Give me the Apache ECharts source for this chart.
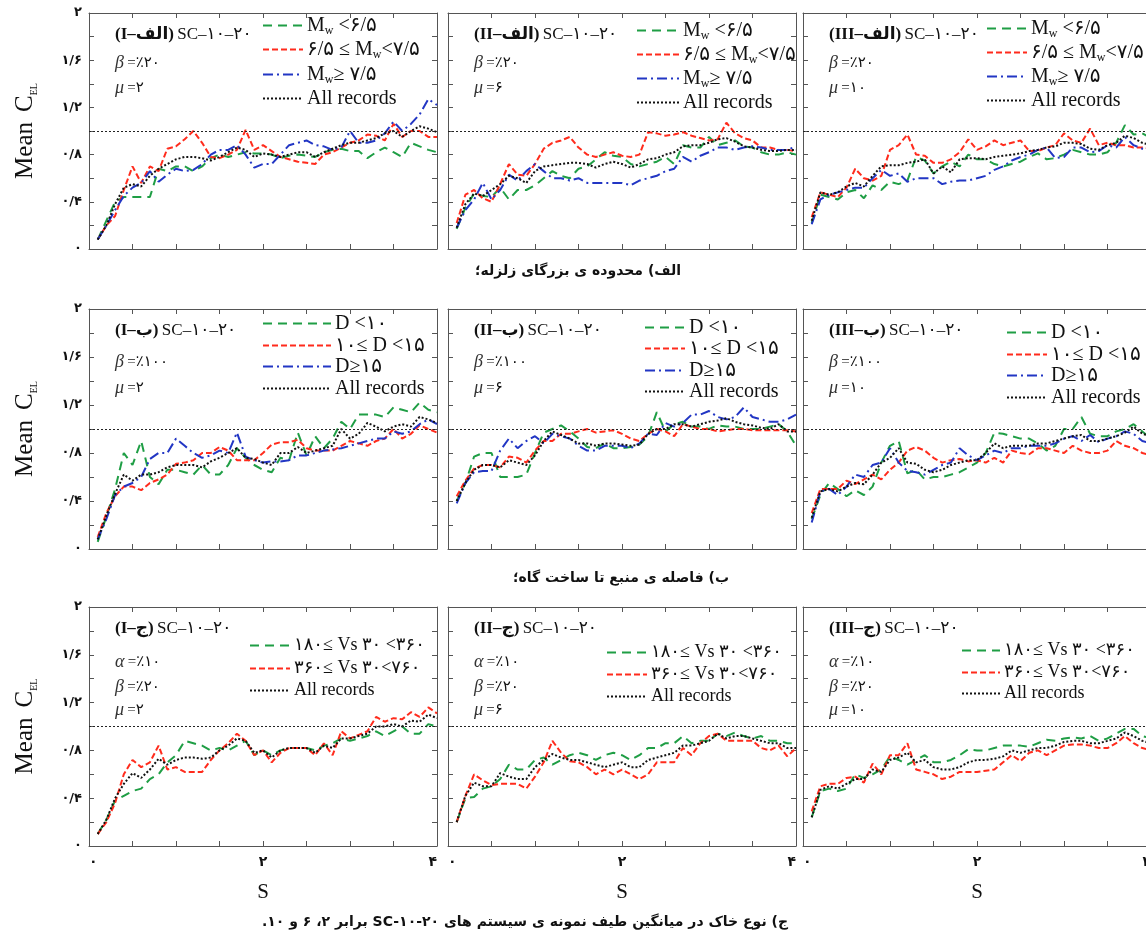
<!DOCTYPE html>
<html>
<head>
<meta charset="utf-8">
<script src="https://cdn.jsdelivr.net/npm/echarts@6/dist/echarts.min.js"></script>
<style>
    html, body { margin: 0; background: #fff; }
    #chart { width: 1146px; height: 937px; }
</style>
</head>
<body>
<div id="chart"></div>
<script>
// periods (s) shared by every curve
var PERIOD = [0.1, 0.2, 0.3, 0.4, 0.5, 0.6, 0.7, 0.8, 0.9, 1.0,
              1.1, 1.2, 1.3, 1.4, 1.5, 1.6, 1.7, 1.8, 1.9, 2.0,
              2.1, 2.2, 2.3, 2.4, 2.5, 2.6, 2.7, 2.8, 2.9, 3.0,
              3.1, 3.2, 3.3, 3.4, 3.5, 3.6, 3.7, 3.8, 3.9, 4.0];

// row 1 (الف) : magnitude bins, mu = 2, 6, 10
var mwLowI  = [0.08,0.24,0.4,0.44,0.44,0.44,0.44,0.68,0.66,0.7,0.7,0.66,0.7,0.77,0.8,0.78,0.8,0.82,0.81,0.81,0.8,0.77,0.79,0.8,0.79,0.78,0.82,0.84,0.85,0.83,0.83,0.77,0.82,0.86,0.82,0.78,0.9,0.87,0.84,0.82];
var mwMidI  = [0.08,0.2,0.28,0.5,0.7,0.56,0.7,0.66,0.85,0.87,0.93,1.0,0.9,0.78,0.77,0.8,0.84,1.01,0.84,0.88,0.83,0.78,0.76,0.74,0.73,0.72,0.8,0.82,0.86,0.9,0.92,0.97,0.96,0.92,1.06,0.95,1.0,1.0,0.95,0.95];
var mwHighI = [0.08,0.2,0.33,0.45,0.52,0.56,0.66,0.57,0.63,0.68,0.66,0.67,0.72,0.8,0.84,0.84,0.88,0.8,0.69,0.72,0.72,0.8,0.88,0.9,0.92,0.88,0.87,0.84,0.86,1.0,0.9,0.9,0.92,0.98,1.08,1.0,1.06,1.14,1.27,1.22];
var mwAllI  = [0.08,0.2,0.38,0.52,0.55,0.53,0.62,0.68,0.72,0.76,0.78,0.78,0.77,0.75,0.78,0.82,0.86,0.84,0.78,0.81,0.8,0.78,0.8,0.82,0.82,0.78,0.82,0.85,0.88,0.9,0.9,0.92,0.94,0.98,1.0,0.95,1.0,1.04,1.02,0.99];

var mwLowII  = [0.17,0.35,0.47,0.45,0.44,0.52,0.42,0.5,0.5,0.54,0.6,0.66,0.62,0.6,0.68,0.7,0.76,0.82,0.79,0.78,0.72,0.7,0.72,0.74,0.78,0.72,0.88,0.86,0.86,0.95,0.88,0.9,0.92,0.87,0.86,0.82,0.8,0.8,0.82,0.8];
var mwMidII  = [0.22,0.46,0.5,0.43,0.4,0.55,0.72,0.63,0.62,0.72,0.85,0.9,0.92,0.95,0.86,0.8,0.78,0.8,0.82,0.79,0.78,0.8,0.99,0.98,0.96,0.97,0.99,0.96,0.94,0.92,0.93,1.07,0.98,0.94,0.92,0.86,0.86,0.84,0.84,0.83];
var mwHighII = [0.18,0.33,0.42,0.56,0.42,0.5,0.63,0.58,0.66,0.72,0.66,0.6,0.6,0.58,0.6,0.56,0.56,0.56,0.56,0.56,0.54,0.58,0.6,0.62,0.66,0.68,0.78,0.74,0.79,0.82,0.86,0.86,0.84,0.86,0.87,0.86,0.84,0.84,0.84,0.87];
var mwAllII  = [0.18,0.38,0.47,0.45,0.5,0.55,0.62,0.6,0.56,0.66,0.7,0.71,0.72,0.73,0.73,0.72,0.69,0.72,0.74,0.72,0.69,0.72,0.76,0.77,0.8,0.82,0.87,0.88,0.88,0.9,0.93,0.94,0.91,0.87,0.86,0.84,0.83,0.83,0.84,0.84];

var mwLowIII  = [0.22,0.46,0.44,0.42,0.48,0.5,0.43,0.54,0.5,0.57,0.55,0.58,0.78,0.75,0.64,0.7,0.74,0.7,0.8,0.76,0.76,0.72,0.7,0.72,0.74,0.78,0.81,0.76,0.77,0.8,0.84,0.82,0.8,0.8,0.82,0.9,1.05,0.97,0.98,0.94];
var mwMidIII  = [0.27,0.48,0.46,0.44,0.52,0.68,0.6,0.58,0.62,0.84,0.88,0.97,0.8,0.79,0.73,0.73,0.76,0.82,0.93,0.84,0.87,0.92,0.88,0.9,0.92,0.83,0.83,0.86,0.88,0.98,0.92,0.9,1.02,0.88,0.9,0.88,0.88,0.86,0.86,0.85];
var mwHighIII = [0.21,0.42,0.46,0.48,0.5,0.52,0.52,0.6,0.67,0.62,0.64,0.57,0.6,0.6,0.6,0.55,0.57,0.58,0.58,0.6,0.62,0.67,0.7,0.75,0.78,0.8,0.84,0.86,0.77,0.78,0.86,0.86,0.82,0.83,0.88,0.86,0.95,0.88,0.85,0.84];
var mwAllIII  = [0.24,0.48,0.46,0.48,0.53,0.56,0.53,0.62,0.7,0.71,0.71,0.73,0.74,0.76,0.64,0.7,0.65,0.76,0.77,0.77,0.76,0.78,0.79,0.8,0.81,0.83,0.84,0.86,0.87,0.9,0.9,0.89,0.85,0.84,0.88,0.9,0.96,0.94,0.9,0.88];

// row 2 (ب) : source distance bins
var dNearI = [0.06,0.27,0.5,0.8,0.7,0.9,0.6,0.54,0.66,0.66,0.64,0.62,0.7,0.62,0.62,0.7,0.84,0.76,0.7,0.66,0.64,0.76,0.74,0.97,0.78,0.94,0.84,0.92,1.06,1.0,1.12,1.12,1.12,1.1,1.18,1.16,1.14,1.22,1.16,1.14];
var dMidI  = [0.1,0.3,0.44,0.52,0.52,0.49,0.55,0.58,0.62,0.71,0.72,0.74,0.8,0.8,0.85,0.82,0.74,0.74,0.74,0.8,0.87,0.89,0.89,0.91,0.84,0.82,0.82,0.82,0.86,0.9,0.88,0.86,0.9,0.92,1.0,0.92,0.96,1.03,1.0,0.97];
var dFarI  = [0.08,0.25,0.45,0.52,0.55,0.6,0.75,0.8,0.8,0.92,0.86,0.8,0.76,0.78,0.82,0.8,0.97,0.77,0.74,0.72,0.73,0.73,0.74,0.78,0.78,0.8,0.82,0.83,0.84,0.86,0.88,0.9,0.92,0.92,0.98,0.96,0.98,1.04,1.08,1.04];
var dAllI  = [0.08,0.28,0.46,0.62,0.57,0.62,0.62,0.64,0.68,0.7,0.7,0.7,0.68,0.73,0.76,0.8,0.84,0.76,0.75,0.72,0.7,0.8,0.8,0.85,0.8,0.82,0.84,0.86,1.0,0.92,0.96,1.05,1.02,0.98,1.02,1.04,1.02,1.1,1.08,1.05];

var dNearII = [0.4,0.55,0.77,0.8,0.8,0.6,0.6,0.6,0.62,0.8,0.97,1.0,1.03,0.98,0.92,0.85,0.84,0.88,0.84,0.84,0.85,0.87,0.94,1.14,0.98,1.04,1.06,1.02,1.02,1.0,1.03,1.02,1.02,1.0,1.0,1.0,1.02,1.04,0.98,0.86];
var dMidII  = [0.44,0.57,0.67,0.7,0.7,0.68,0.77,0.76,0.72,0.82,0.9,0.9,0.96,0.96,0.98,1.0,0.97,0.98,0.99,0.96,0.92,0.9,0.96,1.0,0.98,0.94,1.04,1.02,1.0,1.0,0.98,0.99,1.0,1.0,0.99,0.99,0.99,0.99,0.99,0.98];
var dFarII  = [0.38,0.55,0.64,0.65,0.65,0.82,0.92,0.84,0.9,0.94,0.88,0.96,0.94,0.92,0.86,0.82,0.82,0.86,0.86,0.86,0.84,0.88,0.96,0.95,1.05,1.02,1.05,1.12,1.12,1.15,1.1,1.08,1.1,1.18,1.1,1.08,1.06,1.06,1.08,1.12];
var dAllII  = [0.4,0.55,0.66,0.7,0.7,0.68,0.74,0.72,0.7,0.78,0.9,0.98,0.95,0.92,0.88,0.88,0.86,0.88,0.88,0.87,0.86,0.87,0.96,1.0,1.0,1.04,1.04,1.02,1.04,1.06,1.07,1.09,1.06,1.04,1.03,1.01,1.0,1.04,0.98,0.98];

var dNearIII = [0.25,0.45,0.55,0.5,0.44,0.49,0.45,0.52,0.72,0.86,0.9,0.63,0.66,0.58,0.6,0.6,0.62,0.64,0.68,0.72,0.8,0.97,0.96,0.94,0.92,0.92,0.88,0.82,0.86,1.0,1.0,1.1,0.96,0.94,0.94,0.98,1.0,1.04,0.98,0.92];
var dMidIII  = [0.3,0.5,0.5,0.5,0.57,0.54,0.58,0.62,0.58,0.66,0.72,0.82,0.85,0.82,0.76,0.72,0.74,0.75,0.73,0.74,0.72,0.76,0.72,0.82,0.8,0.79,0.84,0.84,0.82,0.8,0.86,0.82,0.8,0.8,0.82,0.9,0.86,0.84,0.8,0.78];
var dFarIII  = [0.22,0.48,0.5,0.45,0.52,0.62,0.6,0.7,0.72,0.84,0.72,0.65,0.64,0.62,0.66,0.7,0.72,0.84,0.78,0.74,0.78,0.82,0.8,0.84,0.84,0.86,0.86,0.86,0.88,0.92,0.94,0.9,0.95,0.89,0.92,0.94,0.98,0.96,0.9,0.88];
var dAllIII  = [0.26,0.48,0.5,0.48,0.52,0.55,0.54,0.62,0.72,0.76,0.84,0.72,0.71,0.66,0.64,0.66,0.7,0.72,0.74,0.74,0.8,0.88,0.84,0.86,0.86,0.86,0.88,0.88,0.9,0.92,0.94,0.95,0.9,0.9,0.92,0.94,0.97,1.02,0.96,0.94];

// row 3 (ج) : soil type bins
var vsSoftI  = [0.1,0.22,0.38,0.42,0.46,0.48,0.56,0.6,0.7,0.76,0.88,0.86,0.84,0.8,0.82,0.8,0.84,0.88,0.76,0.8,0.76,0.8,0.82,0.82,0.82,0.8,0.84,0.86,0.9,0.88,0.9,0.92,0.96,0.92,0.96,1.0,0.94,0.94,1.02,1.0];
var vsStiffI = [0.1,0.2,0.36,0.6,0.72,0.66,0.7,0.84,0.64,0.66,0.62,0.62,0.62,0.72,0.8,0.86,0.94,0.88,0.76,0.8,0.7,0.78,0.82,0.82,0.82,0.76,0.86,0.76,0.96,0.9,0.93,0.96,1.08,1.04,1.07,1.06,1.12,1.08,1.16,1.11];
var vsAllI   = [0.1,0.22,0.4,0.52,0.61,0.57,0.64,0.73,0.68,0.72,0.74,0.74,0.73,0.74,0.8,0.84,0.9,0.88,0.78,0.8,0.74,0.8,0.82,0.82,0.82,0.78,0.84,0.82,0.9,0.9,0.92,0.94,1.0,1.0,1.02,1.0,1.05,1.04,1.1,1.07];

var vsSoftII  = [0.2,0.4,0.41,0.48,0.5,0.56,0.68,0.64,0.64,0.72,0.74,0.68,0.72,0.76,0.78,0.76,0.72,0.76,0.78,0.76,0.72,0.76,0.82,0.82,0.86,0.86,0.92,0.86,0.88,0.88,0.94,0.92,0.95,0.92,0.9,0.92,0.88,0.88,0.86,0.86];
var vsStiffII = [0.2,0.42,0.6,0.55,0.51,0.52,0.52,0.52,0.48,0.58,0.7,0.88,0.78,0.71,0.7,0.66,0.6,0.64,0.6,0.64,0.6,0.56,0.6,0.7,0.7,0.7,0.82,0.76,0.86,0.92,0.94,0.88,0.88,0.88,0.88,0.82,0.8,0.84,0.75,0.82];
var vsAllII   = [0.2,0.42,0.53,0.5,0.5,0.61,0.58,0.56,0.56,0.66,0.72,0.77,0.74,0.72,0.72,0.7,0.68,0.66,0.68,0.7,0.66,0.66,0.72,0.74,0.76,0.78,0.84,0.84,0.86,0.88,0.94,0.9,0.92,0.92,0.9,0.88,0.86,0.86,0.82,0.82];

var vsSoftIII  = [0.24,0.46,0.48,0.46,0.48,0.6,0.57,0.6,0.64,0.75,0.72,0.68,0.72,0.76,0.7,0.7,0.72,0.76,0.81,0.8,0.8,0.82,0.84,0.84,0.84,0.83,0.86,0.89,0.88,0.9,0.91,0.9,0.92,0.88,0.9,0.94,0.98,0.98,0.92,0.9];
var vsStiffIII = [0.29,0.5,0.52,0.52,0.57,0.58,0.53,0.69,0.6,0.76,0.76,0.86,0.64,0.62,0.6,0.56,0.58,0.62,0.62,0.62,0.63,0.64,0.7,0.76,0.71,0.78,0.8,0.76,0.8,0.84,0.85,0.85,0.84,0.82,0.82,0.86,0.92,0.86,0.82,0.8];
var vsAllIII   = [0.24,0.47,0.5,0.48,0.52,0.56,0.56,0.64,0.62,0.72,0.74,0.78,0.7,0.72,0.66,0.64,0.64,0.66,0.7,0.72,0.72,0.73,0.75,0.8,0.78,0.8,0.82,0.82,0.84,0.87,0.88,0.88,0.86,0.86,0.88,0.9,0.95,0.92,0.88,0.86];

// tick labels (Persian digits, "/" as decimal sign)
var Y_TICK_VALUES = [0, 0.4, 0.8, 1.2, 1.6, 2];
var Y_TICK_TEXT   = ['۰', '۰/۴', '۰/۸', '۱/۲', '۱/۶', '۲'];
var X_TICK_VALUES = [0, 2, 4];
var X_TICK_TEXT   = ['۰', '۲', '۴'];

// series names per row, and the panels in reading order
var ROW_KEYS = [['mw1', 'mw2', 'mw3', 'all'], ['d1', 'd2', 'd3', 'all'], ['v1', 'v2', 'all']];
var PANELS = [
    [mwLowI, mwMidI, mwHighI, mwAllI], [mwLowII, mwMidII, mwHighII, mwAllII], [mwLowIII, mwMidIII, mwHighIII, mwAllIII],
    [dNearI, dMidI, dFarI, dAllI], [dNearII, dMidII, dFarII, dAllII], [dNearIII, dMidIII, dFarIII, dAllIII],
    [vsSoftI, vsStiffI, vsAllI], [vsSoftII, vsStiffII, vsAllII], [vsSoftIII, vsStiffIII, vsAllIII]
];

var LEGEND_TEXT = {
    mw1: '{t|M}{s|w}{t| <۶/۵}',
    mw2: '{t|۶/۵ ≤ M}{s|w}{t|<۷/۵}',
    mw3: '{t|M}{s|w}{t|≥ ۷/۵}',
    d1: '{t|D <۱۰}',
    d2: '{t|۱۰≤ D <۱۵}',
    d3: '{t|D≥۱۵}',
    v1: '{t|۱۸۰≤ Vs ۳۰ <۳۶۰}',
    v2: '{t|۳۶۰≤ Vs ۳۰<۷۶۰}',
    all: '{t|All records}'
};

var ROMAN = ['I', 'II', 'III'];
var ROW_LETTER = ['الف', 'ب', 'ج'];
var MU = ['۲', '۶', '۱۰'];
var ROW_PARAMS = [[['β', '٪۲۰']], [['β', '٪۱۰۰']], [['α', '٪۱۰'], ['β', '٪۲۰']]];
var CAPTIONS = ['الف) محدوده ی بزرگای زلزله؛', 'ب) فاصله ی منبع تا ساخت گاه؛',
                'ج) نوع خاک در میانگین طیف نمونه ی سیستم های SC-۱۰-۲۰ برابر ۲، ۶ و ۱۰.'];

// ---- layout / style
var COL_LEFT = [89, 448, 803];
var ROW_TOP = [13, 309, 607];
var ROW_HEIGHT = [236, 240, 239];
var PANEL_W = 348;
var PARAM_Y = [[50, 75], [53, 79], [55, 80, 103]];
// icon left, first row centre, icon width, row step, font size
var LEGEND_POS = [[263, 25, 40, 24.3, 20], [637, 30, 42, 24, 20], [987, 28, 40, 24, 20],
                  [263, 323, 68, 21.7, 20], [645, 327, 40, 21.3, 20], [1007, 332, 40, 21.7, 20],
                  [250, 645, 40, 22.5, 18], [607, 652, 40, 22, 18], [962, 650, 38, 21.5, 18]];
var CAPTION_POS = [[578, 271], [621, 578], [525, 922]];

var SERIF = '"Liberation Serif", "DejaVu Serif", serif';
var ARAB = '"DejaVu Sans", sans-serif';
var GREEN = {color: '#1f9e45', type: [9, 6]};
var RED = {color: '#ff2b1c', type: [6, 3]};
var BLUE = {color: '#2236c4', type: [10, 4, 2, 4]};
var BLACK = {color: '#111111', type: [2, 2]};
var STYLE = {mw1: GREEN, d1: GREEN, v1: GREEN, mw2: RED, d2: RED, v2: RED, mw3: BLUE, d3: BLUE, all: BLACK};

function tickText(values, texts, v) {
    for (var i = 0; i < values.length; i++) {
        if (Math.abs(values[i] - v) < 1e-6) return texts[i];
    }
    return '';
}

function buildOption() {
    var grid = [], xAxis = [], yAxis = [], series = [], graphic = [];
    var axisLine = {show: true, onZero: false, lineStyle: {color: '#555', width: 1}};
    var axisTick = {show: true, inside: true, length: 5, lineStyle: {color: '#555'}};

    for (var g = 0; g < 9; g++) {
        var r = Math.floor(g / 3), c = g % 3;
        var left = COL_LEFT[c], top = ROW_TOP[r];
        grid.push({left: left, top: top, width: PANEL_W, height: ROW_HEIGHT[r], outerBoundsMode: 'none'});

        // bottom + top x axes (box with inner ticks)
        xAxis.push({
            gridIndex: g, type: 'value', min: 0, max: 4, interval: 0.5, position: 'bottom',
            axisLine: axisLine, axisTick: axisTick, splitLine: {show: false},
            axisLabel: {
                show: r === 2, margin: 9, color: '#111', fontFamily: ARAB, fontWeight: 'bold', fontSize: 14,
                showMinLabel: true, showMaxLabel: true, alignMinLabel: 'left', alignMaxLabel: 'right',
                formatter: function (v) { return tickText(X_TICK_VALUES, X_TICK_TEXT, v); }
            },
            name: r === 2 ? 'S' : '', nameLocation: 'middle', nameGap: 36,
            nameTextStyle: {fontFamily: SERIF, fontSize: 21, color: '#111'}
        });
        xAxis.push({
            gridIndex: g, type: 'value', min: 0, max: 4, interval: 0.5, position: 'top',
            axisLine: axisLine, axisTick: axisTick, splitLine: {show: false}, axisLabel: {show: false}
        });
        // left + right y axes
        yAxis.push({
            gridIndex: g, type: 'value', min: 0, max: 2, interval: 0.2, position: 'left',
            axisLine: axisLine, axisTick: axisTick, splitLine: {show: false},
            axisLabel: {
                show: c === 0, margin: 7, color: '#111', fontFamily: ARAB, fontWeight: 'bold', fontSize: 13,
                showMinLabel: true, showMaxLabel: true,
                formatter: function (v) { return tickText(Y_TICK_VALUES, Y_TICK_TEXT, v); }
            },
            name: c === 0 ? '{m|Mean}   {m|C}{s|EL}' : '', nameLocation: 'middle', nameRotate: 90, nameGap: 50,
            nameTextStyle: {
                rich: {
                    m: {fontFamily: SERIF, fontSize: 25, color: '#111', lineHeight: 28},
                    s: {fontFamily: SERIF, fontSize: 10, color: '#111', lineHeight: 10, verticalAlign: 'bottom'}
                }
            }
        });
        yAxis.push({
            gridIndex: g, type: 'value', min: 0, max: 2, interval: 0.2, position: 'right',
            axisLine: axisLine, axisTick: axisTick, splitLine: {show: false}, axisLabel: {show: false}
        });

        var keys = ROW_KEYS[r];
        var lp = LEGEND_POS[g];
        for (var k = 0; k < keys.length; k++) {
            var ys = PANELS[g][k];
            var st = STYLE[keys[k]];
            var pts = PERIOD.map(function (x, i) { return [x, ys[i]]; });
            var s = {
                name: keys[k], type: 'line', xAxisIndex: 2 * g, yAxisIndex: 2 * g,
                data: pts, symbol: 'none', silent: true,
                lineStyle: {color: st.color, type: st.type, width: 2}
            };
            if (k === 0) {
                s.markLine = {
                    silent: true, symbol: 'none', label: {show: false},
                    lineStyle: {color: '#222', type: [2, 2], width: 1},
                    data: [{yAxis: 1}]
                };
            }
            series.push(s);

            // legend row: line sample + label
            var cy = Math.round(lp[1] + k * lp[3]) + 0.5;
            graphic.push({
                type: 'line', silent: true,
                shape: {x1: lp[0], y1: cy, x2: lp[0] + lp[2], y2: cy},
                style: {stroke: st.color, lineWidth: 2, lineDash: st.type}
            });
            graphic.push({
                type: 'text', x: lp[0] + lp[2] + 4, y: cy, silent: true,
                style: {
                    text: LEGEND_TEXT[keys[k]], verticalAlign: 'middle',
                    rich: {
                        t: {fontFamily: SERIF + ', ' + ARAB, fontSize: lp[4], fill: '#111', lineHeight: 22},
                        s: {fontFamily: SERIF, fontSize: 12, fill: '#111', lineHeight: 10, verticalAlign: 'bottom'}
                    }
                }
            });
        }

        // panel annotations
        graphic.push({
            type: 'text', x: left + 26, y: top + 22, silent: true,
            style: {
                text: '{b|(' + ROMAN[c] + '–' + ROW_LETTER[r] + ')} {n|SC–۱۰–۲۰}',
                verticalAlign: 'middle',
                rich: {
                    b: {fontFamily: SERIF + ', ' + ARAB, fontWeight: 'bold', fontSize: 17, fill: '#111'},
                    n: {fontFamily: SERIF + ', ' + ARAB, fontSize: 17, fill: '#111'}
                }
            }
        });
        var params = ROW_PARAMS[r].concat([['μ', MU[c]]]);
        for (var p = 0; p < params.length; p++) {
            graphic.push({
                type: 'text', x: left + 26, y: top + PARAM_Y[r][p], silent: true,
                style: {
                    text: '{g|' + params[p][0] + '} {e|=' + params[p][1] + '}',
                    verticalAlign: 'middle',
                    rich: {
                        g: {fontFamily: SERIF, fontStyle: 'italic', fontSize: 18, fill: '#333'},
                        e: {fontFamily: SERIF + ', ' + ARAB, fontSize: 15, fill: '#111'}
                    }
                }
            });
        }
    }

    // row captions (right-to-left)
    for (var q = 0; q < CAPTIONS.length; q++) {
        graphic.push({
            type: 'text', x: CAPTION_POS[q][0], y: CAPTION_POS[q][1], silent: true,
            style: {
                text: '\u202B' + CAPTIONS[q] + '\u202C', align: 'center', verticalAlign: 'middle',
                font: 'bold 14px ' + ARAB, fill: '#111'
            }
        });
    }

    return {
        backgroundColor: '#fff',
        animation: false,
        grid: grid, xAxis: xAxis, yAxis: yAxis,
        series: series, graphic: graphic
    };
}

var myChart = echarts.init(document.getElementById('chart'));
myChart.setOption(buildOption());
</script>
</body>
</html>
